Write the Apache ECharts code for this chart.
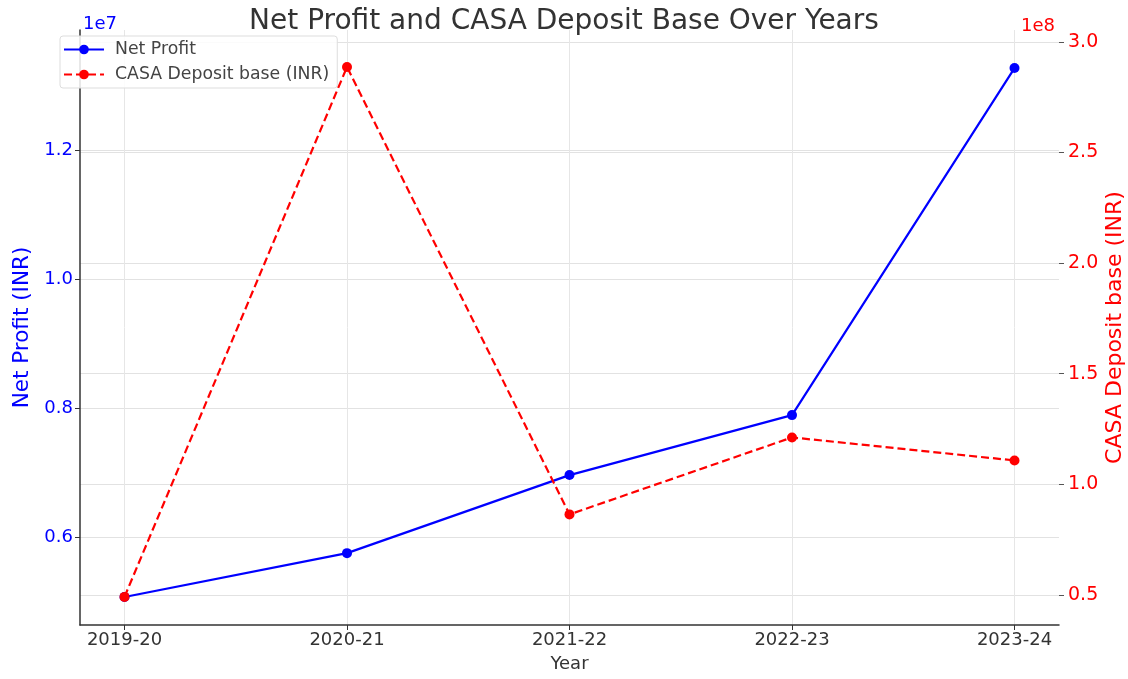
<!DOCTYPE html>
<html>
<head>
<meta charset="utf-8">
<script src="https://cdn.jsdelivr.net/npm/echarts@6/dist/echarts.min.js"></script>
<style>html,body{margin:0;padding:0;background:#fff}#c{width:1128px;height:679px}</style>
</head>
<body>
<div id="c"></div>
<script>
var years = ['2019-20', '2020-21', '2021-22', '2022-23', '2023-24'];
var netProfit = [5070000, 5750000, 6960000, 7890000, 13270000];
var casaDeposit = [49100000, 288700000, 86400000, 121200000, 110800000];
var leftTicks = [6000000, 8000000, 10000000, 12000000];
var rightTicks = [50000000, 100000000, 150000000, 200000000, 250000000, 300000000];

var FONT = 'DejaVu Sans';
var chart = echarts.init(document.getElementById('c'));
var xIdx = years.map(function (_, i) { return i; });
chart.setOption({
  animation: false,
  backgroundColor: '#fff',
  textStyle: { fontFamily: FONT },
  title: {
    text: 'Net Profit and CASA Deposit Base Over Years',
    left: 'center', top: 3,
    textStyle: { fontFamily: FONT, fontSize: 28, fontWeight: 'normal', color: '#333' }
  },
  legend: {
    left: 60, top: 36, orient: 'vertical',
    backgroundColor: 'rgba(255,255,255,0.85)', borderColor: '#ddd', borderWidth: 1, borderRadius: 3,
    padding: [5, 8, 5, 3], itemGap: 8, itemWidth: 40, itemHeight: 12,
    textStyle: { fontFamily: FONT, fontSize: 17.3, color: '#444', padding: [0, 0, 0, 6] },
    data: ['Net Profit', 'CASA Deposit base (INR)']
  },
  grid: { left: 80, right: 69, top: 30, bottom: 54, containLabel: false, outerBoundsMode: 'none' },
  xAxis: {
    type: 'value', min: -0.2, max: 4.2,
    name: 'Year', nameLocation: 'middle', nameGap: 30,
    nameTextStyle: { fontFamily: FONT, fontSize: 18, color: '#333' },
    axisLine: { show: true, onZero: false, lineStyle: { color: '#333', width: 1.5 } },
    axisTick: { show: true, length: 5, customValues: xIdx, lineStyle: { color: '#333' } },
    axisLabel: { customValues: xIdx, fontFamily: FONT, fontSize: 18, color: '#333', margin: 6,
      formatter: function (v) { return years[Math.round(v)] || ''; } },
    splitLine: { show: true, lineStyle: { color: '#e6e6e6', width: 1 } }
  },
  yAxis: [{
    type: 'value', min: 4636000, max: 13860000, position: 'left',
    name: 'Net Profit (INR)', nameLocation: 'middle', nameGap: 47, nameMoveOverlap: false,
    nameTextStyle: { fontFamily: FONT, fontSize: 21.5, color: 'blue' },
    axisLine: { show: true, onZero: false, lineStyle: { color: '#333', width: 1.5 } },
    axisTick: { show: true, length: 5, customValues: leftTicks, lineStyle: { color: '#333' } },
    axisLabel: { customValues: leftTicks, fontFamily: FONT, fontSize: 18, color: 'blue', margin: 7,
      formatter: function (v) { return (v / 1e7).toFixed(1); } },
    splitLine: { show: true, lineStyle: { color: '#e2e2e2', width: 1 } }
  }, {
    type: 'value', min: 36400000, max: 305400000, position: 'right',
    name: 'CASA Deposit base (INR)', nameLocation: 'middle', nameGap: 45, nameMoveOverlap: false,
    nameTextStyle: { fontFamily: FONT, fontSize: 22, color: 'red' },
    axisLine: { show: false, onZero: false },
    axisTick: { show: true, length: 5, customValues: rightTicks, lineStyle: { color: '#555' } },
    axisLabel: { customValues: rightTicks, fontFamily: FONT, fontSize: 19, color: 'red', margin: 9,
      formatter: function (v) { return (v / 1e8).toFixed(1); } },
    splitLine: { show: true, lineStyle: { color: '#e2e2e2', width: 1 } }
  }],
  graphic: [
    { type: 'text', left: 83, top: 15, style: { text: '1e7', fill: 'blue', font: '18px "DejaVu Sans"' } },
    { type: 'text', left: 1021, top: 17, style: { text: '1e8', fill: 'red', font: '18px "DejaVu Sans"' } }
  ],
  series: [{
    name: 'Net Profit', type: 'line', yAxisIndex: 0,
    data: netProfit.map(function (v, i) { return [i, v]; }),
    symbol: 'circle', symbolSize: 10, color: 'blue',
    lineStyle: { color: 'blue', width: 2.2 }, itemStyle: { color: 'blue' }, z: 3
  }, {
    name: 'CASA Deposit base (INR)', type: 'line', yAxisIndex: 1,
    data: casaDeposit.map(function (v, i) { return [i, v]; }),
    symbol: 'circle', symbolSize: 10, color: 'red',
    lineStyle: { color: 'red', width: 2.2, type: [8, 4] }, itemStyle: { color: 'red' }, z: 4
  }]
});
</script>
</body>
</html>
